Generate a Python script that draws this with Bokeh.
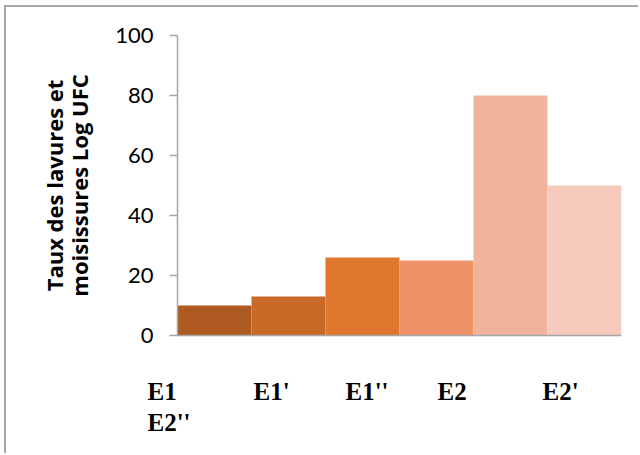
from bokeh.plotting import figure
from bokeh.models import Range1d, SingleIntervalTicker, FixedTicker, Label
from bokeh.embed import file_html
from bokeh.resources import INLINE

# Yeast and mould counts per sample
categories = ["E1", "E1'", "E1''", "E2", "E2'", "E2''"]
values = [10, 13, 26, 25, 80, 50]
colors = ["#AE5A21", "#C96928", "#E0772F", "#F09268", "#F2B39C", "#F6CBBD"]
y_ticks = [0, 20, 40, 60, 80, 100]

n = len(categories)
p = figure(
    width=634, height=448, title=None,
    x_range=Range1d(0, n), y_range=Range1d(y_ticks[0], y_ticks[-1]),
    output_backend="svg", toolbar_location=None,
    min_border_left=170, min_border_right=19,
    min_border_top=28, min_border_bottom=120,
)
p.margin = (5, 0, 0, 4)
p.styles = {"border-left": "2px solid #a6a6a6", "border-top": "2px solid #a6a6a6"}
p.outline_line_color = None
p.grid.visible = False
p.background_fill_color = "white"
p.border_fill_color = "white"

# one adjacent column per sample, no gap between them
lefts = list(range(n))
rights = [i + 1 for i in lefts]
p.quad(left=lefts, right=rights, bottom=0, top=values,
       fill_color=colors, line_color=None)

ax = p.yaxis[0]
ax.ticker = SingleIntervalTicker(interval=20)
ax.axis_line_color = "#a6a6a6"
ax.axis_line_width = 1.5
ax.major_tick_line_color = "#a6a6a6"
ax.major_tick_line_width = 1.5
ax.major_tick_out = 8
ax.major_tick_in = 0
ax.minor_tick_line_color = None
ax.major_label_standoff = 16
ax.major_label_text_font = "Lato"
ax.major_label_text_font_size = "22px"
ax.major_label_text_color = "black"
ax.axis_label = "Taux des lavures et\nmoisissures Log UFC"
ax.axis_label_text_font = "Open Sans"
ax.axis_label_text_font_style = "bold"
ax.axis_label_text_font_size = "22px"
ax.axis_label_text_line_height = 0.85
ax.axis_label_text_color = "black"
ax.axis_label_standoff = 18

# plain baseline along the bottom of the bars
xa = p.xaxis[0]
xa.ticker = FixedTicker(ticks=[])
xa.axis_line_color = "#a6a6a6"
xa.axis_line_width = 1.5
xa.major_tick_line_color = None
xa.minor_tick_line_color = None
xa.major_label_standoff = 0

# category captions below the axis, wrapped onto two rows (canvas pixels);
# they live in the side panels so that they are not clipped to the frame
label_x = [139, 245, 337, 429, 534, 139]
label_y = [382, 382, 382, 382, 382, 413]
panels = ["left", "above", "below", "below", "below", "below"]
for name, lx, ly, side in zip(categories, label_x, label_y, panels):
    p.add_layout(Label(
        x=lx, y=ly, x_units="canvas", y_units="canvas", text=name,
        text_font="Liberation Serif", text_font_style="bold",
        text_font_size="25px", text_color="black",
        text_baseline="alphabetic", text_align="left",
    ), side)

open("out.html", "w").write(file_html(p, INLINE))
